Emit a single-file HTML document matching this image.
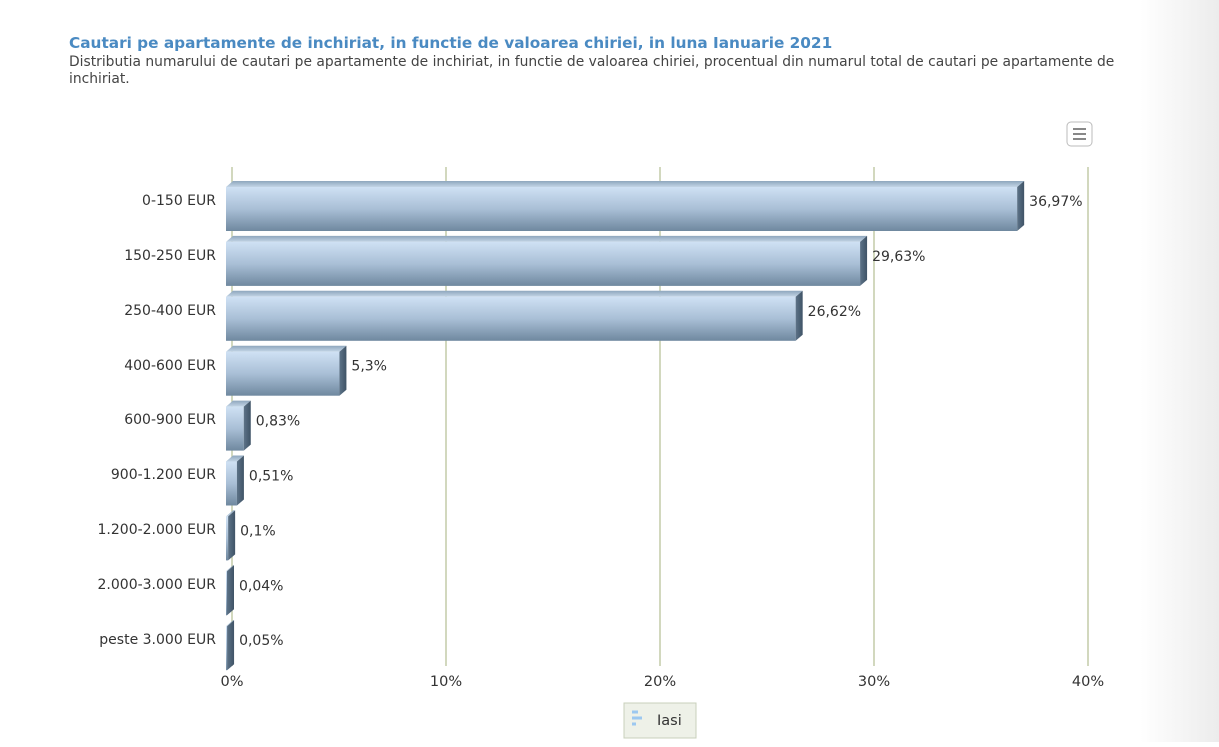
<!DOCTYPE html>
<html><head><meta charset="utf-8"><style>
body{margin:0;width:1219px;height:742px;overflow:hidden;background:#fff;font-family:"Liberation Sans","DejaVu Sans",sans-serif}
</style></head><body>
<svg width="1219" height="742" xmlns="http://www.w3.org/2000/svg" font-family="DejaVu Sans, Liberation Sans, sans-serif">
<defs>
<linearGradient id="bg" x1="0" x2="1"><stop offset="0" stop-color="#fff"/><stop offset="1" stop-color="#ececec"/></linearGradient>
<linearGradient id="front" x1="0" y1="0" x2="0" y2="1"><stop offset="0" stop-color="#cfe1f4"/><stop offset="0.5" stop-color="#a9bfd6"/><stop offset="1" stop-color="#6f889f"/></linearGradient>
<linearGradient id="top" x1="0" y1="0" x2="0" y2="1"><stop offset="0" stop-color="#8ea6bd"/><stop offset="1" stop-color="#c3d5e6"/></linearGradient>
<linearGradient id="side" x1="0" y1="0" x2="1" y2="0"><stop offset="0" stop-color="#5d7388"/><stop offset="1" stop-color="#3f5366"/></linearGradient>
</defs>
<rect x="1140" y="0" width="79" height="742" fill="url(#bg)"/>
<text x="69" y="48" font-size="15.3" font-weight="bold" fill="#4a8ac2">Cautari pe apartamente de inchiriat, in functie de valoarea chiriei, in luna Ianuarie 2021</text>
<text x="69" y="66" font-size="13.85" fill="#444">Distributia numarului de cautari pe apartamente de inchiriat, in functie de valoarea chiriei, procentual din numarul total de cautari pe apartamente de</text>
<text x="69" y="83" font-size="13.85" fill="#444">inchiriat.</text>
<rect x="1067" y="122" width="25" height="24" rx="4" fill="#fff" stroke="#bbb"/>
<path d="M1073 129h13M1073 134h13M1073 139h13" stroke="#888" stroke-width="2"/>
<g stroke="#c3cca9" stroke-width="1.5">
<line x1="232" y1="167" x2="232" y2="666"/><line x1="446" y1="167" x2="446" y2="666"/><line x1="660" y1="167" x2="660" y2="666"/><line x1="874" y1="167" x2="874" y2="666"/><line x1="1088" y1="167" x2="1088" y2="666"/>
</g>
<g font-size="14.5" fill="#333" text-anchor="middle">
<text x="232" y="686">0%</text><text x="446" y="686">10%</text><text x="660" y="686">20%</text><text x="874" y="686">30%</text><text x="1088" y="686">40%</text>
</g>
<g id="bars"></g>
<g font-size="14" fill="#333" text-anchor="end">
<text x="216" y="205">0-150 EUR</text><text x="216" y="260">150-250 EUR</text><text x="216" y="315">250-400 EUR</text><text x="216" y="370">400-600 EUR</text><text x="216" y="424">600-900 EUR</text><text x="216" y="479">900-1.200 EUR</text><text x="216" y="534">1.200-2.000 EUR</text><text x="216" y="589">2.000-3.000 EUR</text><text x="216" y="644">peste 3.000 EUR</text>
</g>
<rect x="624" y="703" width="72" height="35" fill="#eef1e8" stroke="#c8d0bb"/>
<path d="M632 712h6M632 718h10M632 724h4" stroke="#9cc8f0" stroke-width="3"/>
<text x="657" y="725" font-size="14.5" fill="#333">Iasi</text>
</svg>
<script>
var v=[36.97,29.63,26.62,5.3,0.83,0.51,0.1,0.04,0.05],l=["36,97%","29,63%","26,62%","5,3%","0,83%","0,51%","0,1%","0,04%","0,05%"];
var g=document.getElementById("bars"),s="";
for(var i=0;i<9;i++){var y=187+54.9*i,h=44,w=Math.max(1,v[i]*21.4),x=226,d=7,e=6;
s+='<polygon points="'+x+','+y+' '+(x+d)+','+(y-e)+' '+(x+w+d)+','+(y-e)+' '+(x+w)+','+y+'" fill="url(#top)"/>';
s+='<rect x="'+x+'" y="'+y+'" width="'+w+'" height="'+h+'" fill="url(#front)"/>';
s+='<polygon points="'+(x+w)+','+y+' '+(x+w+d)+','+(y-e)+' '+(x+w+d)+','+(y+h-e)+' '+(x+w)+','+(y+h)+'" fill="url(#side)"/>';
s+='<text x="'+(x+w+d+5)+'" y="'+(y+19)+'" font-size="14" fill="#333">'+l[i]+'</text>';}
g.innerHTML=s;
</script>
</body></html>
